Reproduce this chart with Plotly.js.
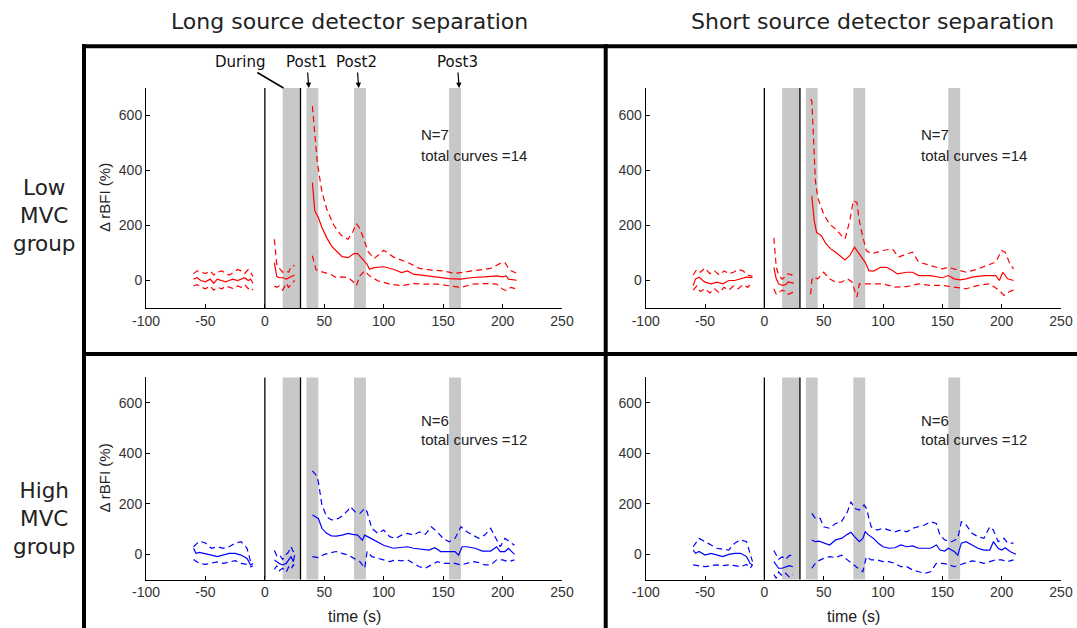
<!DOCTYPE html>
<html><head><meta charset="utf-8">
<script src="https://cdn.plot.ly/plotly-3.0.1.min.js"></script>
<style>html,body{margin:0;padding:0;background:#fff}#plot{width:1077px;height:628px}</style>
</head><body><div id="plot"></div>
<script>
// ---------------- data ----------------
const xTicks = [-100, -50, 0, 50, 100, 150, 200, 250];
const xTickText = ['-100', '-50', '0', '50', '100', '150', '200', '250'];
const yTicks = [0, 200, 400, 600];
const yTickText = ['0', '200', '400', '600'];
const eventLines = [0, 30];
const barStarts = [15, 35, 75, 155];
const barEnds = [30, 45, 85, 165];
const eventLabels = ['During', 'Post1', 'Post2', 'Post3'];
const eventTipX = [15.7, 37, 79, 163.5];
const colTitles = ['Long source detector separation', 'Short source detector separation'];
const rowTitles = ['Low<br>MVC<br>group', 'High<br>MVC<br>group'];
const nLabels = ['N=7', 'N=7', 'N=6', 'N=6'];
const curveLabels = ['total curves =14', 'total curves =14', 'total curves =12', 'total curves =12'];

// Long separation, Low MVC (top-left)
const tlMeanX = [-60,-57,-54,-50,-46,-43,-40,-37,-33,-30,-27,-23,-20,-17,-14,-12,-10,null,8,9,10,12,15,18,20,23,25,null,40,42,45,48,52,56,60,65,70,75,78,82,86,88,92,100,108,115,120,125,135,145,155,165,175,185,195,200,203,205,212];
const tlMeanY = [5,10,0,-5,5,-10,5,0,-5,0,5,0,5,10,0,5,-10,null,65,40,15,10,10,5,10,15,20,null,356,253,229,193,156,126,108,87,83,98,98,80,59,41,47,50,41,29,35,23,17,13,7,5,11,13,17,13,17,5,1];
const tlUpX = [-60,-57,-53,-50,-46,-43,-40,-36,-33,-30,-26,-23,-20,-17,-14,-12,-10,null,8,9,10,12,15,18,20,22,25,null,40,42,44,48,52,58,64,70,74,77,80,84,87,92,100,108,115,122,130,140,150,160,170,180,190,198,202,206,212];
const tlUpY = [25,35,30,25,35,20,30,35,25,20,30,40,35,25,40,30,15,null,150,110,60,45,30,35,30,50,55,null,634,530,433,322,261,201,165,150,177,207,189,141,104,80,110,86,74,62,44,38,35,26,32,38,44,62,65,38,26];
const tlLoX = [-60,-57,-53,-50,-46,-43,-40,-36,-33,-30,-26,-23,-20,-17,-14,-12,-10,null,8,10,12,15,18,20,23,25,null,40,41,43,45,50,55,60,65,70,75,77,80,84,88,95,105,115,125,135,145,155,165,175,185,195,200,203,207,212];
const tlLoY = [-20,-15,-25,-30,-20,-35,-25,-30,-20,-25,-30,-20,-25,-15,-30,-25,-35,null,-20,-25,-20,-35,-10,-25,-10,0,null,90,70,40,35,29,23,11,13,11,-7,-19,17,35,17,-1,-13,-19,-11,-13,-13,-19,-25,-13,-11,-13,-31,-37,-25,-31];

// Short separation, Low MVC (top-right)
const trMeanX = [-60,-58,-55,-50,-45,-40,-35,-30,-25,-20,-15,-10,null,8,9,10,12,15,18,20,23,25,null,40,42,44,48,52,56,60,65,68,72,76,78,82,85,88,92,98,103,108,112,120,125,130,140,150,155,160,165,170,175,185,195,198,201,205,210];
const trMeanY = [-18,6,12,-6,-12,-6,-12,0,0,6,12,10,null,48,25,6,-12,-18,-15,-6,-8,-10,null,308,218,175,163,133,115,103,84,75,91,121,109,84,66,36,34,48,48,36,24,30,30,18,18,10,18,6,2,6,12,18,18,0,30,6,0];
const trUpX = [-60,-57,-54,-50,-46,-42,-38,-34,-30,-26,-22,-18,-14,-10,null,8,9,10,12,15,18,20,23,25,null,39,40,41,42,43,45,50,55,60,65,68,72,75,78,80,83,86,90,100,108,113,120,125,130,140,150,155,160,170,180,190,195,200,203,207,210];
const trUpY = [20,40,30,45,25,35,20,35,25,30,40,35,20,15,null,155,110,50,20,5,15,25,20,30,null,660,653,557,460,363,301,241,205,187,163,151,218,290,284,218,157,109,97,109,115,85,97,103,67,54,42,48,42,30,42,60,67,109,103,60,42];
const trLoX = [-60,-57,-54,-50,-46,-42,-38,-34,-30,-26,-22,-18,-14,-10,null,8,10,12,15,18,20,23,25,null,39,40,41,45,50,55,60,65,70,74,76,78,80,84,90,100,110,120,130,140,150,160,170,180,190,198,202,206,212];
const trLoY = [-35,-20,-40,-30,-45,-30,-45,-25,-35,-20,-30,-15,-25,-5,null,-30,-50,-45,-35,-40,-50,-45,-40,null,-50,0,12,6,30,6,-6,-6,6,-6,-36,-60,-12,-12,-10,-12,-24,-22,-12,-18,-18,-24,-30,-18,-12,-36,-54,-42,-30];

// Long separation, High MVC (bottom-left)
const blMeanX = [-60,-58,-55,-50,-45,-40,-35,-30,-25,-20,-15,-12,-10,null,8,10,12,15,18,20,22,24,25,null,40,43,45,48,52,56,60,65,70,74,78,82,84,88,92,100,108,115,120,125,132,138,143,148,155,160,163,166,170,177,183,190,195,198,202,205,210];
const blMeanY = [24,4,8,4,-3,-9,-3,4,4,-3,-16,-42,-36,null,-22,-30,-36,-42,-36,-22,-9,-29,-3,null,156,149,142,103,83,73,72,76,83,79,76,56,76,66,56,36,24,26,30,24,21,17,26,11,11,11,-3,30,30,24,13,13,30,11,11,24,0];
const blUpX = [-60,-57,-55,-50,-45,-40,-35,-30,-25,-20,-15,-12,-10,null,8,10,12,15,18,20,22,24,25,null,40,43,45,48,52,56,62,66,70,72,76,80,84,86,90,95,100,105,110,115,120,125,130,135,140,145,150,155,160,165,170,175,180,185,190,193,198,202,206,210];
const blUpY = [30,45,52,45,24,30,24,30,44,50,24,-29,-40,null,15,-5,0,-20,0,10,30,10,25,null,330,314,288,195,149,136,142,155,175,188,168,162,182,168,103,83,96,70,63,76,83,76,89,79,109,89,63,50,63,109,89,76,63,76,103,76,30,63,50,36];
const blLoX = [-60,-55,-50,-45,-40,-35,-30,-25,-20,-15,-12,-10,null,8,10,12,15,18,20,22,24,25,null,40,45,50,55,60,65,70,75,80,84,86,90,95,100,105,110,115,120,125,130,135,140,145,150,155,160,165,170,175,180,185,190,195,200,205,210];
const blLoY = [-20,-36,-40,-36,-30,-36,-30,-25,-36,-40,-49,-45,null,-60,-45,-65,-55,-70,-50,-60,-40,-55,null,-9,-13,0,4,11,4,-3,-16,-29,-55,11,-9,-16,-22,-29,-22,-26,-22,-36,-49,-55,-42,-29,-36,-36,-36,-42,-36,-29,-33,-42,-42,-22,-22,-29,-22];

// Short separation, High MVC (bottom-right)
const brMeanX = [-60,-58,-55,-50,-45,-40,-35,-30,-25,-20,-15,-12,-10,null,8,10,12,15,18,21,24,null,40,43,46,50,55,60,65,70,73,76,80,83,85,88,92,96,100,105,110,115,120,125,130,140,145,148,152,155,160,163,166,170,175,180,185,190,193,197,200,203,207,212];
const brMeanY = [17,4,11,-3,4,-3,-9,0,4,4,-9,-36,-42,null,-29,-42,-55,-55,-49,-45,-49,null,57,50,52,44,37,57,63,79,87,70,50,63,89,76,63,44,30,24,26,37,30,33,24,24,37,17,13,24,11,-3,44,50,37,24,17,17,50,24,17,26,11,0];
const brUpX = [-60,-55,-50,-45,-40,-35,-30,-25,-20,-15,-12,-10,null,8,10,12,15,18,21,24,null,40,43,47,50,55,60,65,70,73,76,80,84,86,90,95,100,105,110,115,120,125,130,135,140,145,148,152,158,163,166,170,175,180,185,190,193,197,202,205,210];
const brUpY = [30,63,50,36,24,20,17,44,57,50,0,-29,null,15,0,-20,-10,-20,-5,-3,null,162,142,142,109,103,122,129,168,208,182,175,195,182,109,96,103,96,89,96,89,103,109,116,129,122,76,57,50,63,129,116,83,70,63,109,96,50,63,44,44];
const brLoX = [-60,-55,-50,-45,-40,-35,-30,-25,-20,-15,-12,-10,null,8,10,12,15,18,21,24,null,40,44,50,55,60,65,70,75,79,83,86,90,95,100,105,110,115,120,125,130,135,140,145,150,155,160,165,170,175,180,185,190,195,200,205,210];
const brLoY = [-42,-45,-49,-45,-42,-45,-42,-45,-49,-40,-55,-42,null,-80,-95,-70,-85,-75,-90,-80,null,-55,-29,-16,-9,-13,-3,-22,-42,-55,-69,-9,-22,-22,-29,-29,-36,-49,-49,-62,-69,-75,-69,-36,-36,-40,-49,-42,-36,-26,-29,-36,-29,-22,-22,-29,-22];

// ---------------- geometry ----------------
const W = 1077, H = 628;
const px = v => v / W, py = v => 1 - v / H;
const colDom = [[px(146), px(562)], [px(645.7), px(1061)]];
const rowDom = [[py(308), py(88)], [py(579.6), py(377.4)]];

const panels = [
  {col:0,row:0,color:'#ff0000',mean:[tlMeanX,tlMeanY],up:[tlUpX,tlUpY],lo:[tlLoX,tlLoY]},
  {col:1,row:0,color:'#ff0000',mean:[trMeanX,trMeanY],up:[trUpX,trUpY],lo:[trLoX,trLoY]},
  {col:0,row:1,color:'#0000ff',mean:[blMeanX,blMeanY],up:[blUpX,blUpY],lo:[blLoX,blLoY]},
  {col:1,row:1,color:'#0000ff',mean:[brMeanX,brMeanY],up:[brUpX,brUpY],lo:[brLoX,brLoY]}
];

const SANS = 'Liberation Sans, Arial, sans-serif';
const VERD = 'DejaVu Sans, Verdana, sans-serif';
const tickFont = {family:SANS, size:14, color:'#333'};
const traces = [], shapes = [], annotations = [];
const layout = {
  width:W, height:H, margin:{l:0,r:0,t:0,b:0}, showlegend:false,
  paper_bgcolor:'#fff', plot_bgcolor:'rgba(0,0,0,0)',
  font:{family:SANS, color:'#222'}
};

panels.forEach((p, i) => {
  const n = i + 1, sfx = n === 1 ? '' : String(n);
  const xr = 'x' + sfx, yr = 'y' + sfx;
  layout['xaxis' + sfx] = {
    domain: colDom[p.col], anchor: yr, range:[-100,250], tickvals:xTicks, ticktext:xTickText,
    showline:true, linecolor:'#000', linewidth:1, ticks:'inside', ticklen:4, tickcolor:'#000',
    showgrid:false, zeroline:false, tickfont:tickFont, fixedrange:true
  };
  layout['yaxis' + sfx] = {
    domain: rowDom[p.row], anchor: xr, range:[-100,700], tickvals:yTicks, ticktext:yTickText,
    showline:true, linecolor:'#000', linewidth:1, ticks:'inside', ticklen:4, tickcolor:'#000',
    showgrid:false, zeroline:false, tickfont:tickFont, fixedrange:true
  };
  barStarts.forEach((b, k) => shapes.push({type:'rect', xref:xr, yref:yr + ' domain', x0:b, x1:barEnds[k], y0:0, y1:1,
    fillcolor:'#c8c8c8', line:{width:0}, layer:'below'}));
  eventLines.forEach(v => shapes.push({type:'line', xref:xr, yref:yr + ' domain', x0:v, x1:v, y0:0, y1:1,
    line:{color:'#000', width:1.3}, layer:'below'}));
  const mk = (xy, dash) => ({type:'scatter', mode:'lines', x:xy[0], y:xy[1], xaxis:xr, yaxis:yr,
    connectgaps:false, hoverinfo:'skip', line:{color:p.color, width:1.2, dash:dash}});
  traces.push(mk(p.up, '6px,4px'), mk(p.lo, '6px,4px'), mk(p.mean, 'solid'));
  annotations.push({xref:xr, yref:yr, x:130, y:531, text:nLabels[i], showarrow:false, xanchor:'left', yanchor:'middle',
    font:{family:SANS, size:15, color:'#222'}});
  annotations.push({xref:xr, yref:yr, x:130, y:453, text:curveLabels[i], showarrow:false, xanchor:'left', yanchor:'middle',
    font:{family:SANS, size:15, color:'#222'}});
  if (p.col === 0) {
    annotations.push({xref:'paper', yref:'paper', x:px(104), y:(rowDom[p.row][0] + rowDom[p.row][1]) / 2,
      xanchor:'center', yanchor:'middle', text:'Δ rBFI (%)', textangle:-90, showarrow:false,
      font:{family:SANS, size:15, color:'#222'}});
  }
  if (p.row === 1) {
    annotations.push({xref:'paper', yref:'paper', x:(colDom[p.col][0] + colDom[p.col][1]) / 2, y:py(616),
      xanchor:'center', yanchor:'middle', text:'time (s)', showarrow:false,
      font:{family:SANS, size:16, color:'#222'}});
  }
});

// event labels with arrows (top-left panel)
eventLabels.forEach((t, k) => annotations.push({
  xref:'x', yref:'y domain', x:eventTipX[k], y:1, text:t, showarrow:true,
  ax: k === 0 ? -44 : -2, ay: -26, arrowhead: k === 0 ? 0 : 2, arrowsize:0.9, arrowwidth: k === 0 ? 1.5 : 1.2,
  arrowcolor:'#000', standoff:0,
  font:{family:VERD, size:15, color:'#111'}
}));

// column and row titles
colTitles.forEach((t, c) => annotations.push({xref:'paper', yref:'paper',
  x: c === 0 ? px(349) : px(872), y: py(21), xanchor:'center', yanchor:'middle', text:t, showarrow:false,
  font:{family:VERD, size:22, color:'#222'}}));
rowTitles.forEach((t, r) => annotations.push({xref:'paper', yref:'paper',
  x: px(44), y: r === 0 ? py(215) : py(518), xanchor:'center', yanchor:'middle', text:t, showarrow:false,
  font:{family:VERD, size:21.5, color:'#222'}}));

// thick panel borders
const borderV = [84, 605.7];
const borderH = [46.3, 354];
borderV.forEach(v => shapes.push({type:'line', xref:'paper', yref:'paper', x0:px(v), x1:px(v), y0:py(44.3), y1:0,
  line:{color:'#000', width:4}, layer:'above'}));
borderH.forEach(h => shapes.push({type:'line', xref:'paper', yref:'paper', x0:px(82), x1:1, y0:py(h), y1:py(h),
  line:{color:'#000', width:4}, layer:'above'}));

layout.shapes = shapes;
layout.annotations = annotations;
Plotly.newPlot('plot', traces, layout, {staticPlot:true, displayModeBar:false});
</script></body></html>
